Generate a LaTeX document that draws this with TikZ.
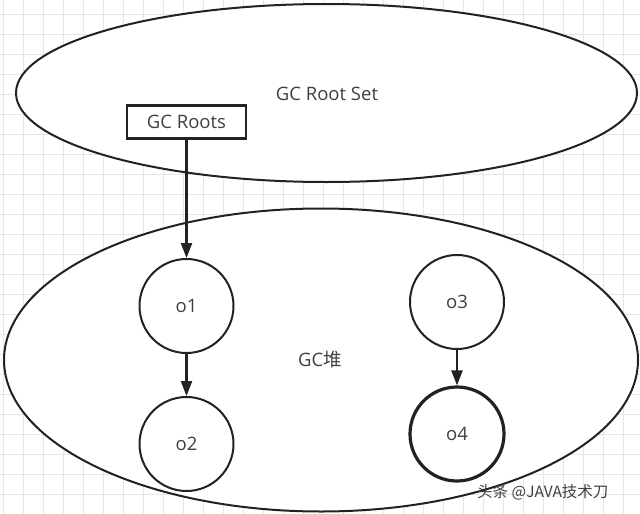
\documentclass[tikz,border=0pt]{standalone}
\usepackage{fontspec}
\setmainfont{Open Sans}
\newfontfamily\cjk{Noto Sans CJK SC}
\usetikzlibrary{shapes.geometric,arrows.meta}
\definecolor{gridc}{HTML}{E6E6E6}
\definecolor{txt}{HTML}{404040}
\definecolor{ln}{HTML}{222222}
\tikzset{
  set/.style={draw=ln, line width=2pt, ellipse, inner sep=0pt, fill=white},
  obj/.style={draw=ln, line width=2pt, circle, minimum size=94pt, inner sep=0pt, fill=white,
    text=txt, font=\fontsize{18.5}{22}\selectfont},
  rootbox/.style={draw=ln, line width=2.2pt, rectangle, minimum width=119pt, minimum height=33pt,
    inner sep=0pt, fill=white, text=txt, font=\fontsize{18.5}{22}\selectfont},
  lbl/.style={text=txt, font=\fontsize{18.5}{22}\selectfont, inner sep=0pt},
  link/.style={draw=ln, line width=2.3pt, -{Triangle[length=15pt,width=11pt]}},
}
\begin{document}
\begin{tikzpicture}[x=1pt,y=-1pt]
\useasboundingbox (0,0) rectangle (640,514);
\fill[white] (0,0) rectangle (640,514);
\foreach \i in {0,...,31} \draw[gridc, line width=0.8pt] (3+20*\i,0) -- (3+20*\i,514);
\foreach \j in {0,...,25} \draw[gridc, line width=0.8pt] (0,14+20*\j) -- (640,14+20*\j);

\node[set, minimum width=621pt, minimum height=178pt] (rootset) at (326.5,93) {};
\node[lbl] (rootsetlbl) at (327,94) {GC Root Set};
\node[rootbox] (roots) at (186.5,122) {GC Roots};

\node[set, minimum width=634pt, minimum height=303pt] (heap) at (321,360) {};
\node[lbl] (heaplbl) at (320,360) {GC{\cjk 堆}};

\node[obj] (o1) at (186.5,306) {o1};
\node[obj] (o2) at (186.5,444) {o2};
\node[obj] (o3) at (457,302) {o3};
\node[obj, line width=3.2pt] (o4) at (457,434) {o4};

\draw[link] (roots.south) -- (o1.north);
\draw[link] (o1.south) -- (o2.north);
\draw[link] (o3.south) -- (o4.north);

\node[text=black!75, font=\cjk\fontsize{15.5}{18}\selectfont, inner sep=0pt, anchor=west] (wm) at (477,492) {头条 @JAVA技术刀};
\end{tikzpicture}
\end{document}
